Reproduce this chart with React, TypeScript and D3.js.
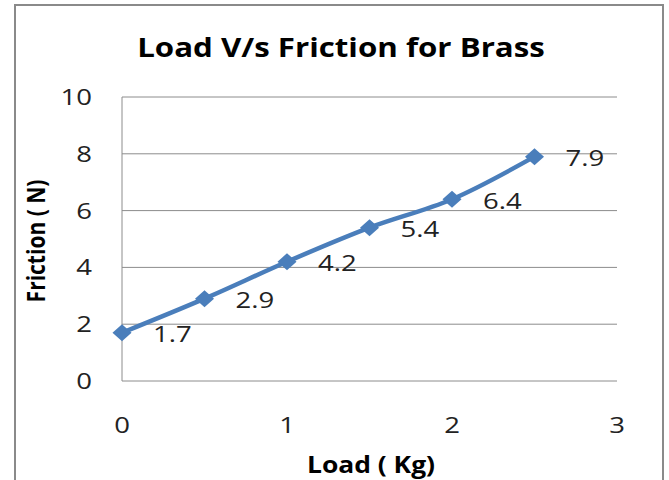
import React from "react";
import * as d3 from "d3";

const loads = [0, 0.5, 1, 1.5, 2, 2.5];
const friction = [1.7, 2.9, 4.2, 5.4, 6.4, 7.9];
const xTicks = [0, 1, 2, 3];
const yTicks = [0, 2, 4, 6, 8, 10];
const title = "Load V/s Friction for Brass";
const xTitle = "Load ( Kg)";
const yTitle = "Friction ( N)";

const W = 669;
const H = 480;
const font = "'Open Sans', 'Noto Sans', sans-serif";

export default function App() {
  const x = d3.scaleLinear().domain([0, 3]).range([122, 617]);
  const y = d3.scaleLinear().domain([0, 10]).range([381, 97]);
  const pts = loads.map((l, i) => [x(l), y(friction[i])] as [number, number]);
  const line = d3.line().curve(d3.curveCatmullRom.alpha(0.5))(pts) || "";
  const blue = "#4a7ebb";
  const sx = 1.25;
  return (
    <svg
      width={W}
      height={H}
      style={{ position: "absolute", left: 0, top: 0, background: "#fff" }}
      fontFamily={font}
    >
      <rect x={15} y={5} width={648} height={500} fill="#fff" stroke="#8a8a8a" strokeWidth={2} />
      <text
        transform={`translate(341,57) scale(1.18,1)`}
        textAnchor="middle"
        fontSize={26.5}
        fontWeight="bold"
        fill="#000"
      >
        {title}
      </text>
      {yTicks.map((t) => (
        <g key={t}>
          <line x1={x(0)} x2={x(3)} y1={y(t)} y2={y(t)} stroke="#8c8c8c" strokeWidth={1} />
          <text
            transform={`translate(92,${y(t) + 8}) scale(${sx},1)`}
            textAnchor="end"
            fontSize={22}
            fill="#222"
          >
            {t}
          </text>
        </g>
      ))}
      <line x1={x(0)} x2={x(0)} y1={y(10)} y2={y(0)} stroke="#8c8c8c" strokeWidth={1} />
      {xTicks.map((t) => (
        <text
          key={t}
          transform={`translate(${x(t)},433) scale(${sx},1)`}
          textAnchor="middle"
          fontSize={22}
          fill="#222"
        >
          {t}
        </text>
      ))}
      <text
        transform={`translate(371,473) scale(1.15,1)`}
        textAnchor="middle"
        fontSize={23}
        fontWeight="bold"
        fill="#000"
      >
        {xTitle}
      </text>
      <text
        transform={`translate(45,241) scale(1.2,1) rotate(-90)`}
        textAnchor="middle"
        fontSize={21}
        fontWeight="bold"
        fill="#000"
      >
        {yTitle}
      </text>
      <path d={line} fill="none" stroke={blue} strokeWidth={4.5} strokeLinejoin="round" />
      {pts.map(([px, py], i) => (
        <g key={i}>
          <path
            d={`M${px},${py - 8.5}L${px + 9.5},${py}L${px},${py + 8.5}L${px - 9.5},${py}Z`}
            fill={blue}
          />
          <text
            transform={`translate(${px + 31},${py + 9.5}) scale(${sx},1)`}
            fontSize={22}
            fill="#222"
          >
            {friction[i]}
          </text>
        </g>
      ))}
    </svg>
  );
}
